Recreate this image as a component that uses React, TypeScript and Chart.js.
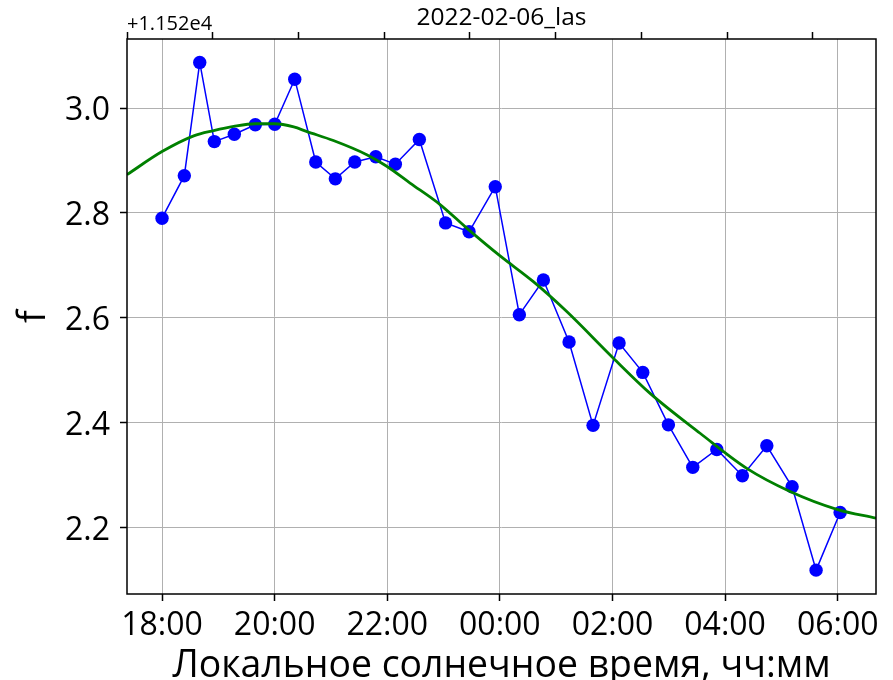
import React, { useEffect, useRef } from "react";
import { Chart, registerables } from "chart.js";

Chart.register(...registerables);

// Observed values (local solar time in hours, 24+ = after midnight)
const obsHours = [18.0, 18.396, 18.67, 18.929, 19.284, 19.657, 20.002, 20.357, 20.73, 21.078, 21.423, 21.796, 22.144, 22.57, 23.036, 23.453, 23.918, 24.346, 24.773, 25.229, 25.655, 26.117, 26.538, 26.993, 27.426, 27.853, 28.307, 28.741, 29.19, 29.616, 30.043];
const obsF = [2.79, 2.871, 3.087, 2.936, 2.95, 2.968, 2.969, 3.055, 2.897, 2.865, 2.897, 2.907, 2.893, 2.94, 2.781, 2.764, 2.85, 2.606, 2.672, 2.554, 2.395, 2.552, 2.496, 2.396, 2.315, 2.349, 2.299, 2.356, 2.278, 2.119, 2.229];

// Fitted curve
const fitHours = [17.378, 18.0, 18.563, 18.918, 19.273, 19.657, 20.002, 20.339, 20.575, 21.043, 21.636, 21.991, 22.405, 22.938, 23.412, 24.004, 24.595, 25.188, 26.016, 26.668, 27.556, 28.385, 29.154, 29.984, 30.68];
const fitF = [2.873, 2.917, 2.947, 2.957, 2.965, 2.97, 2.97, 2.964, 2.955, 2.938, 2.911, 2.889, 2.857, 2.816, 2.771, 2.718, 2.669, 2.612, 2.523, 2.456, 2.38, 2.313, 2.269, 2.235, 2.218];

// Axis ticks
const xTickValues = [18, 20, 22, 24, 26, 28, 30];
const xTickLabels = ["18:00", "20:00", "22:00", "00:00", "02:00", "04:00", "06:00"];
const yTickValues = [2.2, 2.4, 2.6, 2.8, 3.0];
const yTickLabels = ["2.2", "2.4", "2.6", "2.8", "3.0"];
const topTickValues = [0, 1, 2, 3, 4, 5, 6, 7, 8];

const xRange = [17.378, 30.68];
const yRange = [2.0735, 3.1316];
const topRange = [0, 8.735];

const titleText = "2022-02-06_las";
const offsetText = "+1.152e4";
const xLabel = "Локальное солнечное время, чч:мм";
const yLabel = "f";

const FONT = "'Open Sans', 'Noto Sans', sans-serif";

export default function App() {
  const ref = useRef<HTMLCanvasElement | null>(null);

  useEffect(() => {
    if (!ref.current) return;
    const framePlugin = {
      id: "frame",
      afterDraw(chart: any) {
        const { ctx, chartArea } = chart;
        ctx.save();
        ctx.strokeStyle = "#000";
        ctx.lineWidth = 1.5;
        ctx.strokeRect(chartArea.left, chartArea.top, chartArea.right - chartArea.left, chartArea.bottom - chartArea.top);
        ctx.fillStyle = "#000";
        ctx.font = `20px ${FONT}`;
        ctx.textAlign = "left";
        ctx.textBaseline = "alphabetic";
        ctx.fillText(offsetText, chartArea.left, 30);
        ctx.restore();
      },
    };

    const chart = new Chart(ref.current, {
      type: "line",
      data: {
        datasets: [
          {
            label: "fit",
            data: fitHours.map((h, i) => ({ x: h, y: fitF[i] })),
            borderColor: "#008000",
            borderWidth: 2.8,
            pointRadius: 0,
            cubicInterpolationMode: "monotone",
            fill: false,
            order: 0,
          },
          {
            label: "f",
            data: obsHours.map((h, i) => ({ x: h, y: obsF[i] })),
            borderColor: "#0000ff",
            backgroundColor: "#0000ff",
            borderWidth: 1.5,
            pointRadius: 6.7,
            pointBackgroundColor: "#0000ff",
            pointBorderColor: "#0000ff",
            pointBorderWidth: 0,
            tension: 0,
            fill: false,
            order: 1,
          },
        ],
      },
      options: {
        animation: false,
        responsive: false,
        events: [],
        layout: { padding: { left: 0, right: 17, top: 0, bottom: 0 } },
        plugins: {
          legend: { display: false },
          tooltip: { enabled: false },
          title: { display: false },
        },
        scales: {
          x: {
            type: "linear",
            position: "bottom",
            min: xRange[0],
            max: xRange[1],
            afterBuildTicks: (s: any) => {
              s.ticks = xTickValues.map((v) => ({ value: v }));
            },
            afterFit: (s: any) => {
              s.height = 86;
            },
            ticks: {
              callback: (_v: any, i: number) => xTickLabels[i],
              color: "#000",
              font: { family: FONT, size: 32, lineHeight: 1 },
              padding: 9,
              maxRotation: 0,
              autoSkip: false,
            },
            grid: {
              color: "#b0b0b0",
              lineWidth: 1,
              drawTicks: true,
              tickLength: 7,
              tickColor: "#000",
              tickWidth: 1.5,
            },
            border: { display: false },
            title: {
              display: true,
              text: xLabel,
              color: "#000",
              font: { family: FONT, size: 37.4, lineHeight: 0.5 },
              padding: { top: 0, bottom: 4.4 },
            },
          },
          x2: {
            type: "linear",
            position: "top",
            min: topRange[0],
            max: topRange[1],
            afterBuildTicks: (s: any) => {
              s.ticks = topTickValues.map((v) => ({ value: v }));
            },
            afterFit: (s: any) => {
              s.height = 39;
            },
            ticks: { display: false },
            grid: {
              drawOnChartArea: false,
              drawTicks: true,
              tickLength: 7,
              tickColor: "#000",
              tickWidth: 1.5,
            },
            border: { display: false },
            title: {
              display: true,
              text: titleText,
              color: "#000",
              font: { family: FONT, size: 24.5, lineHeight: 1.2 },
              padding: { top: 3.4, bottom: 0 },
            },
          },
          y: {
            type: "linear",
            position: "left",
            min: yRange[0],
            max: yRange[1],
            afterBuildTicks: (s: any) => {
              s.ticks = yTickValues.map((v) => ({ value: v }));
            },
            afterFit: (s: any) => {
              s.width = 127;
            },
            ticks: {
              callback: (_v: any, i: number) => yTickLabels[i],
              color: "#000",
              font: { family: FONT, size: 32 },
              padding: 10,
              labelOffset: 3,
            },
            grid: {
              color: "#b0b0b0",
              lineWidth: 1,
              drawTicks: true,
              tickLength: 7,
              tickColor: "#000",
              tickWidth: 1.5,
            },
            border: { display: false },
            title: {
              display: true,
              text: yLabel,
              color: "#000",
              font: { family: FONT, size: 38, lineHeight: 0.5 },
              padding: { top: 24.7, bottom: 0 },
            },
          },
        },
      },
      plugins: [framePlugin],
    } as any);

    return () => chart.destroy();
  }, []);

  return (
    <div style={{ position: "absolute", left: 0, top: 0, width: 893, height: 680, background: "#fff" }}>
      <canvas ref={ref} width={893} height={680} style={{ display: "block" }} />
    </div>
  );
}
